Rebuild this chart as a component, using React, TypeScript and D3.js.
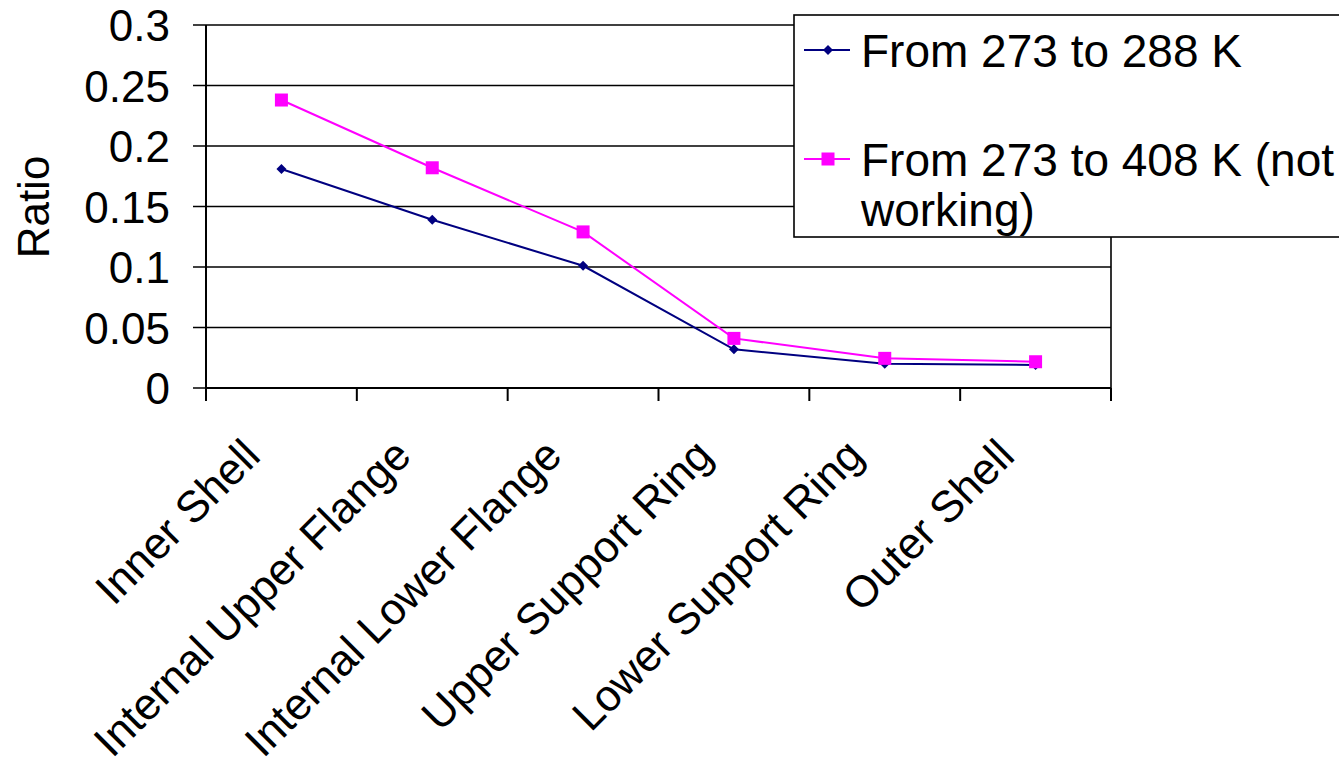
import React from "react";
import * as d3 from "d3";

// Components along the x axis
const categories: string[] = [
  "Inner Shell",
  "Internal Upper Flange",
  "Internal Lower Flange",
  "Upper Support Ring",
  "Lower Support Ring",
  "Outer Shell",
];

// Ratio values per component for each temperature range
const series288: number[] = [0.181, 0.139, 0.101, 0.032, 0.020, 0.019];
const series408: number[] = [0.238, 0.182, 0.129, 0.041, 0.0245, 0.0217];

const yTicks: number[] = [0, 0.05, 0.1, 0.15, 0.2, 0.25, 0.3];
const yTickLabels: string[] = ["0", "0.05", "0.1", "0.15", "0.2", "0.25", "0.3"];

const legendLabels: string[][] = [
  ["From 273 to 288 K"],
  ["From 273 to 408 K (not", "working)"],
];

const W = 1339;
const H = 767;
const FONT = "'Liberation Sans', Arial, sans-serif";
const FS = 44;
const LEGEND_FS = 46;
const NAVY = "#000080";
const MAGENTA = "#FF00FF";

export default function App() {
  const plot = { left: 206, right: 1111, top: 25, bottom: 388 };
  const x = d3
    .scaleBand<string>()
    .domain(categories)
    .range([plot.left, plot.right])
    .padding(0);
  const y = d3.scaleLinear().domain([0, 0.3]).range([plot.bottom, plot.top]);
  const cx = (c: string) => (x(c) as number) + x.bandwidth() / 2;

  const line = d3
    .line<number>()
    .x((_, i) => cx(categories[i]))
    .y((d) => y(d));

  const boundaries = categories.map((c) => x(c) as number).concat([plot.right]);
  const tickLen = 13;

  const diamond = (px: number, py: number, r: number) =>
    `M${px},${py - r}L${px + r},${py}L${px},${py + r}L${px - r},${py}Z`;

  const legendX = 794;
  const legendY = 15;
  const legendRows = [
    { color: NAVY, marker: "diamond", y: 50, baseline: 67 },
    { color: MAGENTA, marker: "square", y: 159, baseline: 176 },
  ];

  return (
    <svg
      width={W}
      height={H}
      style={{ position: "absolute", left: 0, top: 0, background: "#fff" }}
      fontFamily={FONT}
    >
      <rect x={0} y={0} width={W} height={H} fill="#fff" />

      {/* gridlines + y ticks */}
      {yTicks.map((t) => (
        <line
          key={"g" + t}
          x1={plot.left - tickLen}
          x2={plot.right}
          y1={y(t)}
          y2={y(t)}
          stroke="#000"
          strokeWidth={1.6}
        />
      ))}

      {/* y axis */}
      <line
        x1={plot.left}
        x2={plot.left}
        y1={plot.top}
        y2={plot.bottom + tickLen}
        stroke="#000"
        strokeWidth={2}
      />
      {/* right border */}
      <line
        x1={plot.right}
        x2={plot.right}
        y1={plot.top}
        y2={plot.bottom}
        stroke="#000"
        strokeWidth={1.6}
      />
      {/* x axis */}
      <line
        x1={plot.left}
        x2={plot.right}
        y1={plot.bottom}
        y2={plot.bottom}
        stroke="#000"
        strokeWidth={2}
      />
      {boundaries.map((b, i) => (
        <line
          key={"xt" + i}
          x1={b}
          x2={b}
          y1={plot.bottom}
          y2={plot.bottom + tickLen}
          stroke="#000"
          strokeWidth={2}
        />
      ))}

      {/* y tick labels */}
      {yTicks.map((t, i) => (
        <text
          key={"yl" + t}
          x={170}
          y={y(t) + 16}
          textAnchor="end"
          fontSize={FS}
          fill="#000"
        >
          {yTickLabels[i]}
        </text>
      ))}

      {/* y axis title */}
      <text
        transform={`translate(49, 207) rotate(-90)`}
        textAnchor="middle"
        fontSize={FS}
        fill="#000"
      >
        Ratio
      </text>

      {/* x category labels */}
      {categories.map((c) => (
        <text
          key={"xl" + c}
          transform={`translate(${cx(c) - 19}, 458) rotate(-45)`}
          textAnchor="end"
          fontSize={FS}
          fill="#000"
        >
          {c}
        </text>
      ))}

      {/* series lines */}
      <path d={line(series288) || ""} fill="none" stroke={NAVY} strokeWidth={2} />
      <path d={line(series408) || ""} fill="none" stroke={MAGENTA} strokeWidth={2} />

      {/* markers */}
      {series288.map((v, i) => (
        <path key={"d" + i} d={diamond(cx(categories[i]), y(v), 5)} fill={NAVY} />
      ))}
      {series408.map((v, i) => (
        <rect
          key={"s" + i}
          x={cx(categories[i]) - 6.5}
          y={y(v) - 6.5}
          width={13}
          height={13}
          fill={MAGENTA}
        />
      ))}

      {/* legend */}
      <rect
        x={legendX}
        y={legendY}
        width={W - legendX + 10}
        height={237 - legendY}
        fill="#fff"
        stroke="#000"
        strokeWidth={1.6}
      />
      {legendRows.map((r, i) => (
        <g key={"lg" + i}>
          <line x1={804} x2={850} y1={r.y} y2={r.y} stroke={r.color} strokeWidth={2} />
          {r.marker === "diamond" ? (
            <path d={diamond(828, r.y, 5)} fill={r.color} />
          ) : (
            <rect x={828 - 6.5} y={r.y - 6.5} width={13} height={13} fill={r.color} />
          )}
          {legendLabels[i].map((t, j) => (
            <text key={j} x={861} y={r.baseline + j * 50} fontSize={LEGEND_FS} fill="#000">
              {t}
            </text>
          ))}
        </g>
      ))}
    </svg>
  );
}
